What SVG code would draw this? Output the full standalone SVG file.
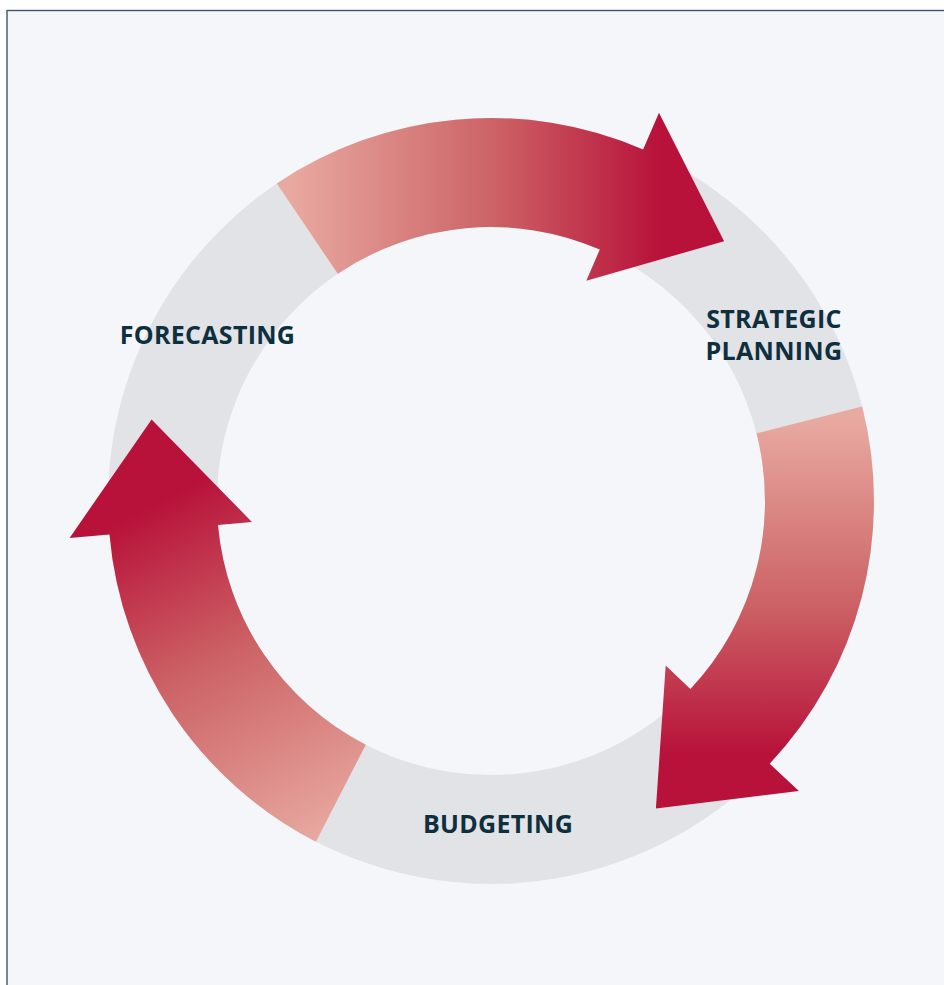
<svg xmlns="http://www.w3.org/2000/svg" width="944" height="985" viewBox="0 0 944 985">
  <style>
    .frame { fill: #f5f6fa; stroke: #3e5a66; stroke-width: 1.4; }
    .track { fill: none; stroke: #e2e3e7; stroke-width: 109; }
    .label { font-family: "Open Sans", "Liberation Sans", sans-serif; font-weight: 700; font-size: 25px; letter-spacing: 0.3px; fill: #0e2f3d; text-anchor: middle; }
  </style>
  <defs>
    <!-- shared colour ramp: pale salmon tail fading into deep crimson head -->
    <linearGradient id="gTop" gradientUnits="userSpaceOnUse" x1="290" y1="0" x2="700" y2="0">
      <stop offset="0" stop-color="#e8a9a1"/>
      <stop offset="0.5" stop-color="#cc6265"/>
      <stop offset="0.9" stop-color="#b8123a"/>
    </linearGradient>
    <linearGradient id="gRight" gradientUnits="userSpaceOnUse" x1="0" y1="420" x2="0" y2="790">
      <stop offset="0" stop-color="#e8a9a1"/>
      <stop offset="0.5" stop-color="#cc6265"/>
      <stop offset="0.9" stop-color="#b8123a"/>
    </linearGradient>
    <linearGradient id="gLeft" gradientUnits="userSpaceOnUse" x1="340" y1="830" x2="150" y2="460">
      <stop offset="0" stop-color="#e8a9a1"/>
      <stop offset="0.5" stop-color="#cc6265"/>
      <stop offset="0.9" stop-color="#b8123a"/>
    </linearGradient>
  </defs>

  <rect x="0" y="0" width="944" height="985" fill="#ffffff"/>
  <rect class="frame" x="7" y="10.5" width="960" height="990"/>

  <!-- grey cycle track -->
  <g id="track">
    <circle class="track" cx="491" cy="501" r="328.5"/>
  </g>

  <!-- curved arrows between the stages -->
  <g id="connectors">
    <path id="arrow-forecast-to-strategy" fill="url(#gTop)" d="M 276.8,183.5 A 383 383 0 0 1 643.1,149.5 L 659.0,112.8 L 724.1,241.2 L 586.3,280.7 L 599.8,249.5 A 274 274 0 0 0 337.8,273.8 Z"/>
    <path id="arrow-strategy-to-budget" fill="url(#gRight)" d="M 862.1,406.4 A 383 383 0 0 1 769.7,763.7 L 798.9,791.1 L 655.9,808.6 L 665.7,665.6 L 690.4,688.9 A 274 274 0 0 0 756.5,433.3 Z"/>
    <path id="arrow-budget-to-forecast" fill="url(#gLeft)" d="M 315.9,841.7 A 383 383 0 0 1 109.5,534.4 L 69.6,537.9 L 151.6,419.5 L 251.9,521.9 L 218.0,524.9 A 274 274 0 0 0 365.8,744.7 Z"/>
  </g>

  <g id="strategic-planning">
    <text class="label" x="774" y="327.5">STRATEGIC</text>
    <text class="label" x="774" y="360">PLANNING</text>
  </g>
  <g id="budgeting">
    <text class="label" x="498" y="832.7">BUDGETING</text>
  </g>
  <g id="forecasting">
    <text class="label" x="207.5" y="343.5">FORECASTING</text>
  </g>
</svg>
